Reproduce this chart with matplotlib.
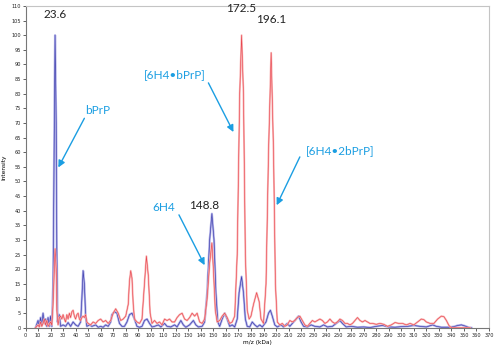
import matplotlib
matplotlib.use("Agg")
import matplotlib.pyplot as plt

# Mass spectra: bPrP + 6H4 mixture (blue) and complex (red)
blue_mz = [8, 10, 11, 12, 13, 14, 15, 16, 17, 18, 19, 20, 21, 22, 23, 23.6, 24.5, 25, 25.6, 27, 28,
           30, 32, 34, 36, 38, 40, 42, 44, 45, 46, 47, 48, 49, 51, 53, 56, 58, 60, 62, 64, 66, 68,
           69, 71, 73, 75, 77, 79, 81, 83, 85, 87, 89, 91, 93, 95, 97, 99, 101, 103, 106, 108, 111,
           113, 116, 119, 121, 124, 126, 128, 131, 134, 136, 138, 141, 143, 145, 147, 148.8, 150.5,
           152, 153.5, 155, 157, 159, 161, 163, 165, 167, 169, 170.5, 172.5, 174, 175.5, 177, 179,
           181, 183, 185, 187, 189, 192, 194, 195.5, 197, 199, 201, 204, 206, 209, 211, 214, 216,
           218, 220, 222, 225, 228, 231, 235, 238, 241, 245, 248, 251, 253, 256, 260, 265, 270, 275,
           280, 285, 290, 295, 300, 305, 310, 315, 320, 325, 328, 332, 338, 342, 345, 348, 351, 354, 356]
blue_int = [0, 2.5, 0.5, 3.5, 1, 5, 1.5, 3, 0.5, 3.5, 0.5, 4, 0.5, 14, 70, 100, 70, 27, 2, 4.5, 0.5,
            1, 0.5, 1.8, 0.5, 2, 1, 0.5, 2, 10, 19.5, 15, 4, 0.5, 1, 0.5, 1, 0.2, 0.5, 0.2, 1, 0.5, 2,
            4.5, 5.5, 5, 1.5, 0.5, 0.5, 2, 4.5, 5, 3, 0.5, 0.2, 0.5, 2.5, 3, 1.5, 0.3, 0.5, 1, 0.3, 1.5,
            0.5, 0.3, 1, 0.3, 2.5, 1, 0.2, 1, 2.5, 1, 0.3, 0.5, 2, 12, 30, 39, 30,
            12, 2, 0.5, 3, 5, 3, 0.5, 1, 0.3, 3, 12, 17.5, 12, 3, 0.5, 0.3,
            2, 1, 0.3, 1, 0.3, 2, 5, 6, 4, 1, 0.3, 1, 0.3, 1.5, 0.5, 2, 3,
            4, 2, 0.5, 0.3, 1, 0.5, 0.3, 1, 0.3, 0.5, 1.5, 2.5, 1.5, 0.3, 0.5, 0.2, 0.3, 0.1,
            0.5, 0.8, 0.3, 0.2, 0.4, 0.5, 0.8, 0.5, 0.3, 1, 0.5, 0.2, 0.2, 0.4, 0.8, 1, 0.6, 0.1, 0]

red_mz = [8, 10, 11, 12, 13, 14, 15, 16, 17, 18, 20, 21, 22, 23, 23.6, 24.5, 25, 26, 27, 28, 29, 30,
          31, 32, 33, 34, 35, 36, 37, 38, 39, 40, 41, 42, 43, 44, 45, 46, 47, 48, 49, 50, 52, 54, 56,
          58, 60, 62, 64, 66, 68, 70, 72, 74, 76, 78, 80, 82, 83, 84, 85, 86, 87, 89, 91, 93, 94.5,
          96.5, 98, 99.5, 101, 103, 105, 107, 109, 111, 113, 115, 117, 119, 121, 123, 125, 127, 129,
          131, 133, 135, 137, 139, 141, 143, 145, 147, 148.8, 150, 151.5, 153, 155, 157, 159, 161,
          163, 165, 167, 169, 171, 172.5, 174, 175.5, 177, 178.5, 180, 182, 184.5, 186.5, 188, 190,
          192, 194, 196.1, 198, 199.5, 201, 203, 205, 207, 209, 211, 213, 215, 217, 219, 221, 223,
          225, 227, 229, 231, 233, 235, 237, 239, 241, 243, 245, 247, 249, 251, 253, 255, 257, 259,
          261, 263, 265, 267, 269, 271, 273, 275, 277, 280, 283, 286, 289, 292, 295, 298, 301, 304,
          307, 310, 313, 316, 318, 320, 323, 326, 329, 332, 334, 336, 338, 340, 345, 355]
red_int = [0, 1, 0.3, 2, 0.5, 1.5, 3, 1, 2.5, 0.5, 2, 1, 8, 20, 27, 20, 6, 1, 3.5, 4, 3, 4.5,
           3, 2, 4.5, 3, 5, 3.5, 5.5, 6, 4, 3, 4.5, 5, 3, 2.5, 3.5, 4, 3.5, 4.5, 2, 1.5, 1, 2, 1.5,
           2.5, 3, 2, 2.5, 1.5, 2.5, 5, 6.5, 5, 2.5, 3, 4, 8, 16, 19.5, 17, 8, 3, 2, 1.5, 3, 12,
           24.5, 18, 5, 1.5, 2.5, 1.5, 2, 1, 3, 2.5, 3, 2, 2, 3.5, 4.5, 5, 3, 2.5,
           3.5, 5, 4, 5, 2, 1.5, 3, 10, 22, 29, 20, 6, 2, 2.5, 4, 5, 3.5,
           1.5, 2, 4, 25, 80, 100, 80, 25, 6, 3, 4, 8, 12, 9, 3, 1.5,
           15, 60, 94, 60, 15, 2, 1, 1.5, 0.5, 1, 2.5, 2, 2.5, 3.5, 4, 2.5, 1,
           0.5, 1.5, 2.5, 2, 2.5, 3, 2.5, 1.5, 2, 3, 2, 1.5, 2, 3, 2.5, 1.5, 1.5, 1,
           1.5, 2.5, 3.5, 2.5, 2, 2.5, 2, 1.5, 1.5, 1.2, 1.5, 1.2, 0.5, 1, 1.8, 1.5, 1.5, 1,
           1.5, 1, 2, 3, 2.8, 2, 1.5, 1.5, 3, 4, 3.8, 2.5, 0.8, 0, 0, 0]

x_ticks = list(range(0, 371, 10))
y_ticks = list(range(0, 111, 5))

peak_labels = ["23.6", "148.8", "172.5", "196.1"]
species = ["bPrP", "6H4", "[6H4\u2022bPrP]", "[6H4\u20222bPrP]"]

fig = plt.figure(figsize=(5.0, 3.48), dpi=100)
ax = fig.add_axes([0.051, 0.058, 0.927, 0.925])

ax.plot(blue_mz, blue_int, color="#b0b0e8", lw=1.6, zorder=2)
ax.plot(blue_mz, blue_int, color="#3a3aaa", lw=0.45, zorder=3)
ax.plot(red_mz, red_int, color="#f8b0b0", lw=1.4, zorder=4, alpha=0.9)
ax.plot(red_mz, red_int, color="#e8404a", lw=0.4, zorder=5)

ax.set_xlim(0, 370)
ax.set_ylim(0, 110)
ax.set_xticks(x_ticks)
ax.set_yticks(y_ticks)
ax.tick_params(axis="both", labelsize=3.6, length=2, width=0.5, pad=1.5, colors="#222222")
for side in ("top", "right"):
    ax.spines[side].set_color("#c4c4c4")
    ax.spines[side].set_linewidth(0.8)
for side in ("left", "bottom"):
    ax.spines[side].set_color("#777777")
    ax.spines[side].set_linewidth(0.8)

ax.set_xlabel("m/z (kDa)", fontsize=4.2, labelpad=2)
ax.set_ylabel("Intensity", fontsize=4.2, labelpad=3)

# peak m/z values
num_style = dict(fontsize=8.5, color="#222222", ha="center", va="center", family="Lato")
ax.text(23.6, 107.0, peak_labels[0], **num_style)
ax.text(142.5, 41.9, peak_labels[1], **num_style)
ax.text(172.5, 109.0, peak_labels[2], **num_style)
ax.text(196.1, 105.2, peak_labels[3], **num_style)

# species annotations with arrows
cyan = "#1b9ee2"
arrow = dict(arrowstyle="-|>", color=cyan, lw=1.0, mutation_scale=10, shrinkA=0, shrinkB=0)
lab_style = dict(fontsize=8.5, color=cyan, ha="center", va="center", family="Lato")
ax.annotate("", xy=(26.2, 54.8), xytext=(47.0, 71.6), arrowprops=arrow)
ax.text(57.5, 74.4, species[0], **lab_style)
ax.annotate("", xy=(143.0, 21.4), xytext=(122.5, 38.6), arrowprops=arrow)
ax.text(110.0, 41.2, species[1], **lab_style)
ax.annotate("", xy=(166.0, 66.9), xytext=(146.0, 83.7), arrowprops=arrow)
ax.text(119.5, 86.4, species[2], **lab_style)
ax.annotate("", xy=(200.5, 41.9), xytext=(219.0, 58.4), arrowprops=arrow)
ax.text(251.0, 60.7, species[3], **lab_style)

fig.savefig("out.png", dpi=100)
